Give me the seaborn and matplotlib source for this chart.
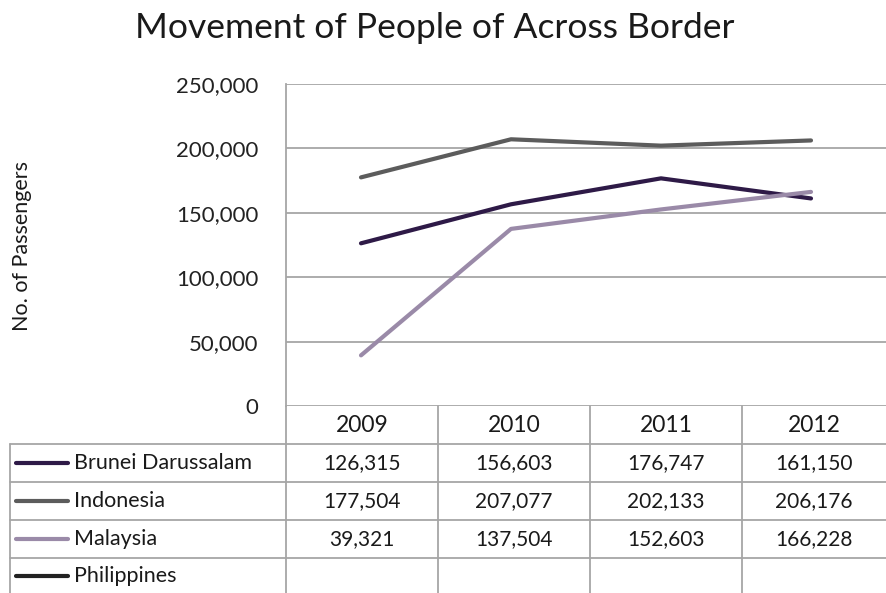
import pandas as pd
import seaborn as sns
import matplotlib.pyplot as plt
from matplotlib.lines import Line2D
from matplotlib.ticker import FuncFormatter

years = ['2009', '2010', '2011', '2012']
countries = ['Brunei Darussalam', 'Indonesia', 'Malaysia', 'Philippines']
brunei = [126315, 156603, 176747, 161150]
indonesia = [177504, 207077, 202133, 206176]
malaysia = [39321, 137504, 152603, 166228]
philippines = [None, None, None, None]
colors = ['#2e1a47', '#5c5c5c', '#9a8aa8', '#222222']

series = [brunei, indonesia, malaysia, philippines]
rows = []
for name, vals in zip(countries, series):
    for i, (yr, v) in enumerate(zip(years, vals)):
        rows.append([i, yr, v, name])
df = pd.DataFrame(rows, columns=['pos', 'Year', 'Passengers', 'Country'])

sns.set_style('white')
plt.rcParams['font.family'] = ['Lato', 'DejaVu Sans']

W, H = 886, 593
fig = plt.figure(figsize=(W / 100, H / 100), dpi=100)


def fx(px):
    return px / W


def fy(py):
    return 1 - py / H


ax = fig.add_axes([fx(286), fy(406), fx(886) - fx(286), fy(84) - fy(406)])
sns.lineplot(data=df.dropna(), x='pos', y='Passengers', hue='Country',
             hue_order=countries, palette=colors, linewidth=3,
             legend=False, ax=ax)
ax.set_xlim(-0.5, 3.5)
ax.set_ylim(0, 250000)
ax.set_yticks(range(0, 250001, 50000))
ax.yaxis.set_major_formatter(FuncFormatter(lambda v, p: f'{int(v):,}'))
ax.set_xticks([])
ax.set_xlabel('')
ax.set_ylabel('')
ax.grid(axis='y', color='#a6a6a6', linewidth=1.3)
ax.set_axisbelow(True)
for s in ['top', 'right', 'bottom']:
    ax.spines[s].set_visible(False)
ax.spines['left'].set_color('#a6a6a6')
ax.spines['left'].set_linewidth(1.3)
ax.tick_params(axis='y', length=0, pad=20, labelsize=16, labelcolor='#222222')

fig.text(fx(435), fy(28), 'Movement of People of Across Border', ha='center',
         va='center', fontsize=25.5, color='#1a1a1a')
fig.text(fx(22), fy(246), 'No. of Passengers', rotation=90, ha='center',
         va='center', fontsize=15.5, color='#1a1a1a')

# data table below the plot
gc = '#a6a6a6'
col_edges = [286, 438, 590, 742, 886]
row_edges = [406, 444, 482, 520, 558, 593]


def hline(x0, x1, y):
    fig.add_artist(Line2D([fx(x0), fx(x1)], [fy(y), fy(y)], color=gc, lw=1.3))


def vline(x, y0, y1):
    fig.add_artist(Line2D([fx(x), fx(x)], [fy(y0), fy(y1)], color=gc, lw=1.3))


for y in row_edges[1:-1]:
    hline(10, 886, y)
for x in col_edges[1:-1]:
    vline(x, 406, 593)
vline(286, 406, 593)
vline(10, 444, 593)

for j, yr in enumerate(years):
    cx = (col_edges[j] + col_edges[j + 1]) / 2
    fig.text(fx(cx), fy(426), yr, ha='center', va='center', fontsize=16.5,
             color='#1a1a1a')

for i, (name, vals, c) in enumerate(zip(countries, series, colors)):
    cy = (row_edges[i + 1] + row_edges[i + 2]) / 2
    fig.add_artist(Line2D([fx(16), fx(68)], [fy(cy), fy(cy)], color=c, lw=3,
                          solid_capstyle='round'))
    fig.text(fx(74), fy(cy), name, ha='left', va='center', fontsize=15.5,
             color='#1a1a1a')
    for j, v in enumerate(vals):
        if v is None:
            continue
        cx = (col_edges[j] + col_edges[j + 1]) / 2
        fig.text(fx(cx), fy(cy), f'{v:,}', ha='center', va='center',
                 fontsize=15, color='#1a1a1a')

fig.savefig('out.png', dpi=100)
